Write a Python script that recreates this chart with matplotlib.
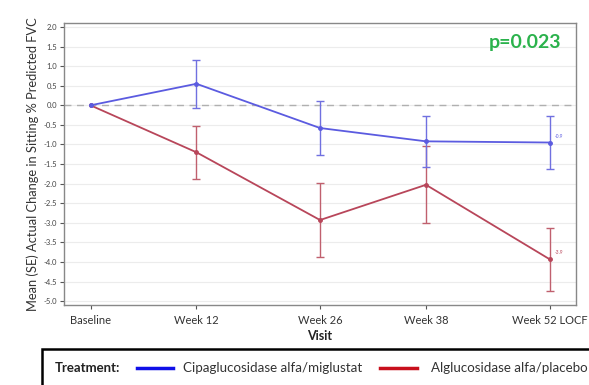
import matplotlib
matplotlib.use("Agg")
import matplotlib.pyplot as plt
from matplotlib.patches import Rectangle
from matplotlib.lines import Line2D

plt.rcParams['font.family'] = ['Lato', 'DejaVu Sans']

visits = ["Baseline", "Week 12", "Week 26", "Week 38", "Week 52 LOCF"]
weeks = [0, 12, 26, 38, 52]
cipa_mean = [0.0, 0.55, -0.58, -0.92, -0.95]
cipa_se = [0.0, 0.61, 0.69, 0.65, 0.68]
algl_mean = [0.0, -1.20, -2.93, -2.03, -3.93]
algl_se = [0.0, 0.67, 0.94, 0.98, 0.80]
yticks = [2.0, 1.5, 1.0, 0.5, 0.0, -0.5, -1.0, -1.5, -2.0, -2.5, -3.0, -3.5, -4.0, -4.5, -5.0]
series_names = ["Cipaglucosidase alfa/miglustat", "Alglucosidase alfa/placebo"]
end_labels = ["-0.9", "-3.9"]
p_text = "p=0.023"

blue_line = "#5b5be0"
red_line = "#b8465a"
blue_leg = "#1010e8"
red_leg = "#c8101c"

fig = plt.figure(figsize=(5.89, 3.85), dpi=100)
ax = fig.add_axes([0.1087, 0.2078, 0.978 - 0.1087, 0.940 - 0.2078])

ax.set_xlim(-3, 55)
ax.set_ylim(-5.1, 2.1)
for yv in yticks:
    ax.axhline(yv, color="#ececec", lw=0.8, zorder=0)
ax.axhline(0, color="#b0b0b0", lw=1.0, ls=(0, (5, 4)), zorder=1)

ax.errorbar(weeks[1:], cipa_mean[1:], yerr=cipa_se[1:], fmt='none', ecolor="#7070e0",
            elinewidth=1.0, capsize=3, capthick=1.0, zorder=3)
ax.errorbar(weeks[1:], algl_mean[1:], yerr=algl_se[1:], fmt='none', ecolor="#c0606e",
            elinewidth=1.0, capsize=3, capthick=1.0, zorder=2)
ax.plot(weeks, algl_mean, color=red_line, lw=1.3, marker='o', ms=2.5, zorder=4)
ax.plot(weeks, cipa_mean, color=blue_line, lw=1.3, marker='o', ms=2.5, zorder=5)

ax.text(weeks[-1] + 0.6, cipa_mean[-1] + 0.12, end_labels[0], fontsize=3.5, color=blue_line)
ax.text(weeks[-1] + 0.6, algl_mean[-1] + 0.12, end_labels[1], fontsize=3.5, color=red_line)

ax.text(0.90, 0.93, p_text, transform=ax.transAxes, ha='center', va='center',
        fontsize=14, fontweight='bold', color="#2bb24c")

ax.set_xticks(weeks)
ax.set_xticklabels(visits, fontsize=8, color="#333333")
ax.set_yticks(yticks)
ax.set_yticklabels([f"{v:.1f}" for v in yticks], fontsize=5.5, color="#444444")
ax.tick_params(axis='both', direction='out', length=3, width=0.8, colors="#555555")
ax.tick_params(axis='x', labelcolor="#333333", pad=4)
ax.tick_params(axis='y', labelcolor="#444444", pad=2)
for s in ax.spines.values():
    s.set_color("#888888")
    s.set_linewidth(1.0)

ax.set_xlabel("Visit", fontsize=9, fontweight='bold', color="#222222", labelpad=3)
ax.set_ylabel("Mean (SE) Actual Change in Sitting % Predicted FVC", fontsize=9.3,
              color="#333333", labelpad=3)

# legend box
fig.patches.append(Rectangle((42 / 589, -0.1), 1.0, 0.1 + (1 - 349 / 385),
                             transform=fig.transFigure, fill=False, edgecolor="black",
                             lw=1.8, clip_on=False))
ly = 1 - 368 / 385
fig.text(55 / 589, ly, "Treatment:", fontsize=9.5, fontweight='bold', color="#222222",
         va='center', ha='left')
fig.lines.append(Line2D([137 / 589, 173 / 589], [ly, ly], transform=fig.transFigure,
                        color=blue_leg, lw=2.5))
fig.text(183 / 589, ly, series_names[0], fontsize=9.6, color="#333333", va='center')
fig.lines.append(Line2D([380 / 589, 417 / 589], [ly, ly], transform=fig.transFigure,
                        color=red_leg, lw=2.5))
fig.text(431 / 589, ly, series_names[1], fontsize=9.6, color="#333333", va='center')

fig.savefig("out.png", dpi=100)
